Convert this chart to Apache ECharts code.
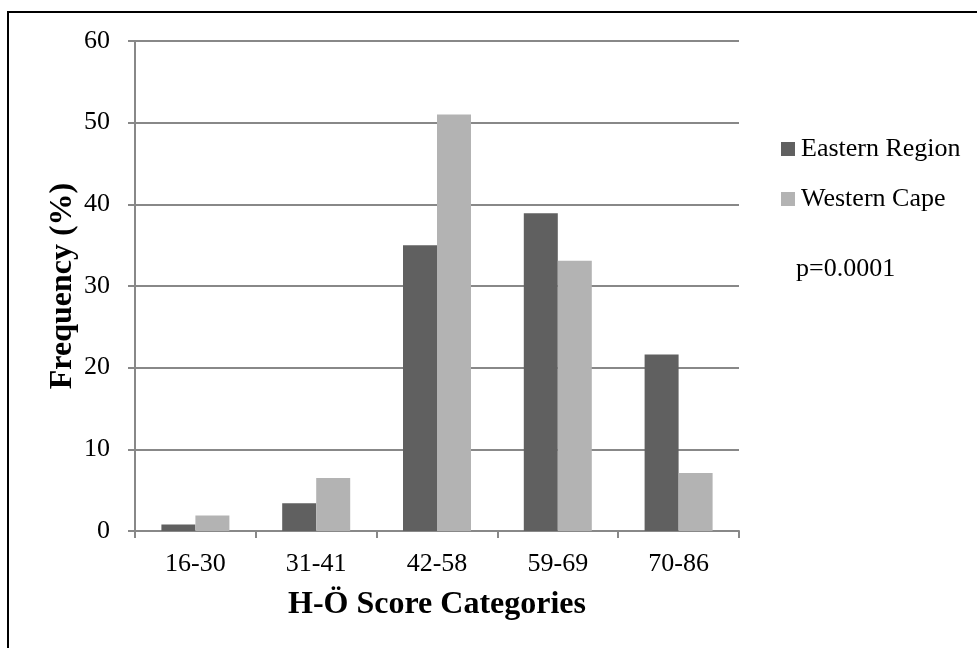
<!DOCTYPE html>
<html>
<head>
<meta charset="utf-8">
<script src="https://cdn.jsdelivr.net/npm/echarts@6/dist/echarts.min.js"></script>
<style>
  html, body { margin: 0; padding: 0; background: #fff; }
  #chart { width: 977px; height: 648px; }
</style>
</head>
<body>
<div id="chart"></div>
<script>
// H-Ö score categories and frequency (%) per region
var categories = ['16-30', '31-41', '42-58', '59-69', '70-86'];
var easternRegion = [0.8, 3.4, 35.0, 38.9, 21.6];
var westernCape = [1.9, 6.5, 51.0, 33.1, 7.1];
var seriesNames = ['Eastern Region', 'Western Cape'];
var pValueText = 'p=0.0001';

var FONT = "'Liberation Serif', 'Times New Roman', serif";
var GRID_GRAY = '#888888';

var chart = echarts.init(document.getElementById('chart'));

chart.setOption({
  animation: false,
  backgroundColor: '#ffffff',
  textStyle: { fontFamily: FONT, color: '#000' },
  grid: { left: 135, right: 238, top: 41, bottom: 117, containLabel: false },
  legend: {
    orient: 'vertical',
    left: 776,
    top: 131,
    itemWidth: 14,
    itemHeight: 14,
    itemGap: 24,
    icon: 'rect',
    data: seriesNames,
    textStyle: { fontFamily: FONT, fontSize: 26, color: '#000', lineHeight: 26, padding: [0, 0, 0, 1] }
  },
  xAxis: {
    type: 'category',
    data: categories,
    boundaryGap: true,
    name: 'H-Ö Score Categories',
    nameLocation: 'middle',
    nameGap: 58,
    nameMoveOverlap: false,
    nameTextStyle: { fontFamily: FONT, fontSize: 32, fontWeight: 'bold', color: '#000' },
    axisLine: { lineStyle: { color: GRID_GRAY, width: 2 } },
    axisTick: { show: true, alignWithLabel: false, length: 7, lineStyle: { color: GRID_GRAY, width: 2 } },
    axisLabel: { fontFamily: FONT, fontSize: 26, color: '#000', margin: 20 }
  },
  yAxis: {
    type: 'value',
    min: 0,
    max: 60,
    interval: 10,
    name: 'Frequency (%)',
    nameLocation: 'middle',
    nameRotate: 90,
    nameGap: 56,
    nameMoveOverlap: false,
    nameTextStyle: { fontFamily: FONT, fontSize: 32, fontWeight: 'bold', color: '#000' },
    axisLine: { show: true, lineStyle: { color: GRID_GRAY, width: 2 } },
    axisTick: { show: true, length: 7, lineStyle: { color: GRID_GRAY, width: 2 } },
    axisLabel: { fontFamily: FONT, fontSize: 26, color: '#000', margin: 25 },
    splitLine: { show: true, lineStyle: { color: GRID_GRAY, width: 2 } }
  },
  series: [
    {
      name: seriesNames[0],
      type: 'bar',
      data: easternRegion,
      barWidth: 34,
      barGap: '0%',
      itemStyle: { color: '#606060' }
    },
    {
      name: seriesNames[1],
      type: 'bar',
      data: westernCape,
      barWidth: 34,
      barGap: '0%',
      itemStyle: { color: '#b3b3b3' }
    }
  ],
  graphic: [
    {
      type: 'rect',
      shape: { x: 8, y: 12, width: 1200, height: 900 },
      style: { fill: 'none', stroke: '#000', lineWidth: 2 },
      silent: true
    },
    {
      type: 'text',
      left: 796,
      top: 256,
      style: { text: pValueText, font: '26px ' + FONT, fill: '#000' }
    }
  ]
});
</script>
</body>
</html>
